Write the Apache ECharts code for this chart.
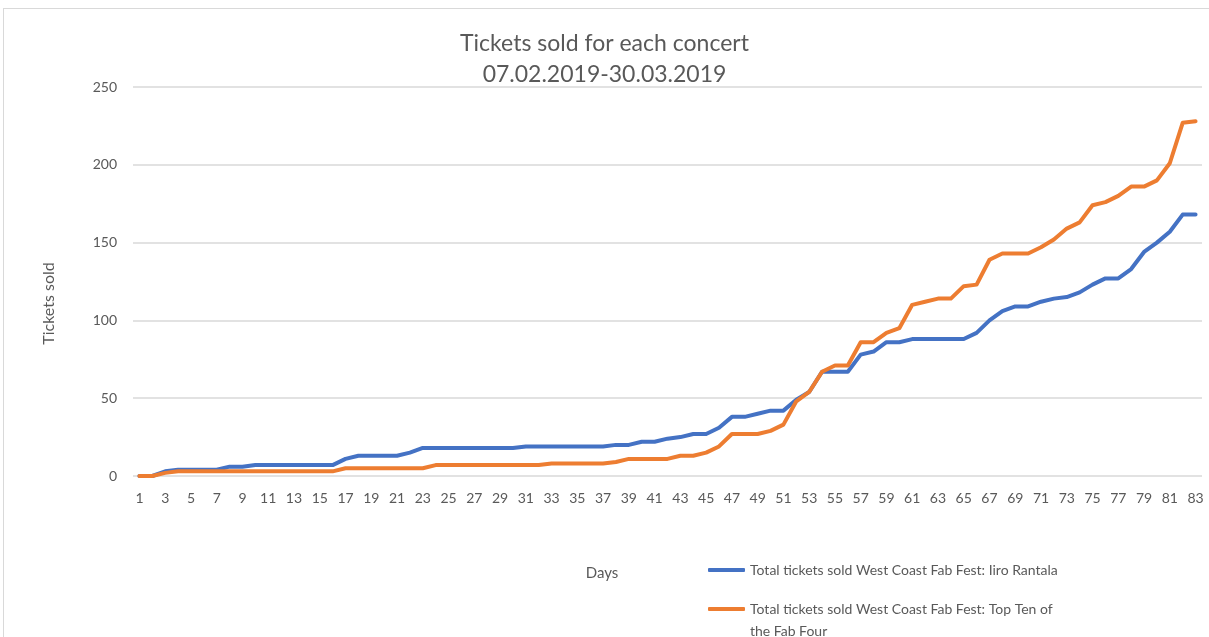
<!DOCTYPE html>
<html>
<head>
<meta charset="utf-8">
<script src="https://cdn.jsdelivr.net/npm/echarts@6/dist/echarts.min.js"></script>
<style>
  html, body { margin: 0; padding: 0; background: #fff; }
  #frame { position: absolute; left: 3px; top: 8px; width: 1206px; height: 629px;
           border-top: 1px solid #d9d9d9; border-left: 1px solid #d9d9d9; box-sizing: border-box; }
  #chart { position: absolute; left: 0; top: 0; width: 1209px; height: 637px; }
</style>
</head>
<body>
<div id="frame"></div>
<div id="chart"></div>
<script>
  // days 1..83
  const days = []
  for (let d = 1; d <= 83; d++) days.push(String(d))

  // Iiro Rantala
  const iiroRantala = [
    0, 0, 3, 4, 4, 4, 4, 6, 6, 7,
    7, 7, 7, 7, 7, 7, 11, 13, 13, 13,
    13, 15, 18, 18, 18, 18, 18, 18, 18, 18,
    19, 19, 19, 19, 19, 19, 19, 20, 20, 22,
    22, 24, 25, 27, 27, 31, 38, 38, 40, 42,
    42, 49, 54, 67, 67, 67, 78, 80, 86, 86,
    88, 88, 88, 88, 88, 92, 100, 106, 109, 109,
    112, 114, 115, 118, 123, 127, 127, 133, 144, 150,
    157, 168, 168
  ]

  // Top Ten of the Fab Four
  const topTen = [
    0, 0, 2, 3, 3, 3, 3, 3, 3, 3,
    3, 3, 3, 3, 3, 3, 5, 5, 5, 5,
    5, 5, 5, 7, 7, 7, 7, 7, 7, 7,
    7, 7, 8, 8, 8, 8, 8, 9, 11, 11,
    11, 11, 13, 13, 15, 19, 27, 27, 27, 29,
    33, 48, 54, 67, 71, 71, 86, 86, 92, 95,
    110, 112, 114, 114, 122, 123, 139, 143, 143, 143,
    147, 152, 159, 163, 174, 176, 180, 186, 186, 190,
    201, 227, 228
  ]

  const name1 = 'Total tickets sold West Coast Fab Fest: Iiro Rantala'
  const name2 = 'Total tickets sold West Coast Fab Fest: Top Ten of the Fab Four'

  const font = 'Lato, "Open Sans", sans-serif'
  const grey = '#595959'

  const chart = echarts.init(document.getElementById('chart'))

  const option = {
    animation: false,
    textStyle: { fontFamily: font },
    title: {
      text: 'Tickets sold for each concert\n07.02.2019-30.03.2019',
      left: 'center',
      top: 23,
      textStyle: { fontFamily: font, fontSize: 23, fontWeight: 'normal', color: grey, lineHeight: 31 }
    },
    grid: { left: 133, right: 7, top: 87, bottom: 161 },
    legend: [
      {
        data: [name1],
        left: 708,
        top: 563,
        padding: 0,
        icon: 'roundRect',
        itemWidth: 37,
        itemHeight: 4,
        itemGap: 4,
        textStyle: { fontFamily: font, fontSize: 14, color: grey }
      },
      {
        data: [name2],
        left: 708,
        top: 576,
        padding: 0,
        icon: 'roundRect',
        itemWidth: 37,
        itemHeight: 4,
        // leading empty line keeps the icon level with the first text line
        formatter: () => '\nTotal tickets sold West Coast Fab Fest: Top Ten of\nthe Fab Four',
        textStyle: { fontFamily: font, fontSize: 14, color: grey, lineHeight: 22 }
      }
    ],
    xAxis: {
      type: 'category',
      data: days,
      boundaryGap: true,
      name: 'Days',
      nameLocation: 'middle',
      nameGap: 90,
      nameTextStyle: { fontFamily: font, fontSize: 15, color: grey, padding: [0, 131, 0, 0] },
      axisLine: { show: false },
      axisTick: { show: false },
      axisLabel: { interval: 1, fontSize: 14, color: grey, margin: 15 }
    },
    yAxis: {
      type: 'value',
      min: 0,
      max: 250,
      interval: 50,
      name: 'Tickets sold',
      nameLocation: 'middle',
      nameGap: 76,
      nameTextStyle: { fontFamily: font, fontSize: 16, color: grey, padding: [0, 44, 0, 0] },
      axisLabel: { fontSize: 14, color: grey, margin: 16 },
      splitLine: { lineStyle: { color: '#d9d9d9', width: 1.5 } }
    },
    series: [
      {
        name: name1,
        type: 'line',
        data: iiroRantala,
        symbol: 'none',
        lineStyle: { color: '#4472C4', width: 4, cap: 'round', join: 'round' },
        itemStyle: { color: '#4472C4' }
      },
      {
        name: name2,
        type: 'line',
        data: topTen,
        symbol: 'none',
        lineStyle: { color: '#ED7D31', width: 4, cap: 'round', join: 'round' },
        itemStyle: { color: '#ED7D31' }
      }
    ]
  }

  chart.setOption(option)
</script>
</body>
</html>
